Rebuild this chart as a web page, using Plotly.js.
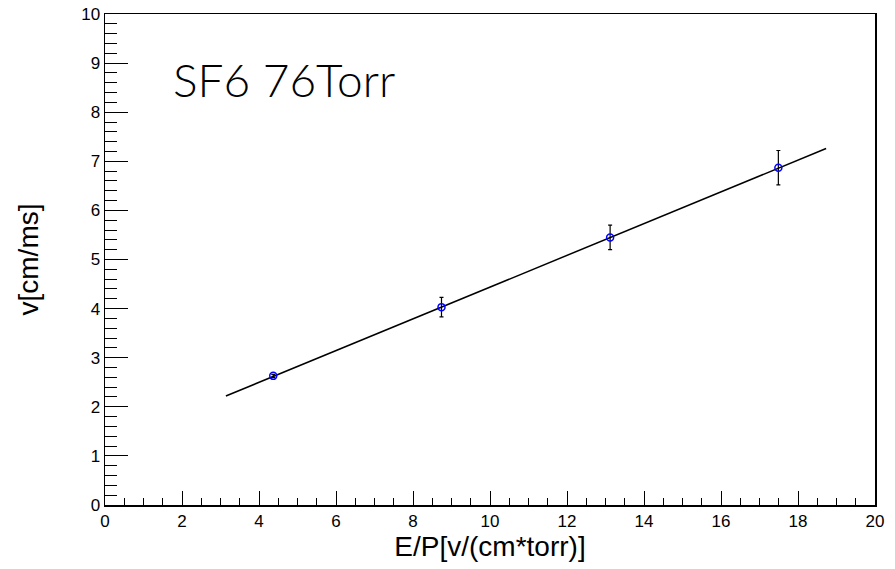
<!DOCTYPE html>
<html>
<head>
<meta charset="utf-8">
<script src="https://cdn.plot.ly/plotly-3.0.1.min.js"></script>
<style>html,body{margin:0;padding:0;background:#fff;}#chart{width:895px;height:569px;}</style>
</head>
<body>
<div id="chart"></div>
<script>
// Measured points
const epValues = [4.37, 8.74, 13.12, 17.49];
const velocity = [2.63, 4.03, 5.45, 6.87];
const velocityErr = [0.03, 0.20, 0.25, 0.35];
// Fit line
const fitX = [3.14, 18.73];
const fitY = [2.22, 7.26];
// Labels
const chartLabel = "SF6 76Torr";
const xTitle = "E/P[v/(cm*torr)]";
const yTitle = "v[cm/ms]";

const traces = [
  {
    x: fitX, y: fitY, type: 'scatter', mode: 'lines',
    line: {color: '#000', width: 1.5}, hoverinfo: 'skip', showlegend: false
  },
  {
    x: epValues, y: velocity, type: 'scatter', mode: 'markers',
    marker: {symbol: 'circle-open', color: '#0000ff', size: 7, line: {width: 1.5, color: '#0000ff'}},
    error_y: {type: 'data', array: velocityErr, visible: true, color: '#000', thickness: 1.2, width: 2},
    showlegend: false
  }
];

const axisFont = {family: 'Liberation Sans, Arial, sans-serif', size: 17, color: '#000'};
const titleFont = {family: 'Liberation Sans, Arial, sans-serif', size: 28, color: '#000'};
const layout = {
  width: 895, height: 569,
  margin: {l: 105, r: 20, t: 14, b: 64},
  paper_bgcolor: '#fff', plot_bgcolor: '#fff',
  showlegend: false,
  xaxis: {
    range: [0, 20], dtick: 2, tick0: 0, showgrid: false, zeroline: false,
    showline: true, linecolor: '#000', linewidth: 1.5, mirror: true,
    ticks: 'inside', ticklen: 14, tickwidth: 1, tickcolor: '#000',
    minor: {dtick: 0.5, ticklen: 7, tickwidth: 1, tickcolor: '#000', ticks: 'inside', showgrid: false},
    tickfont: axisFont,
    title: {text: xTitle, font: titleFont, standoff: 2}
  },
  yaxis: {
    range: [0, 10], dtick: 1, tick0: 0, showgrid: false, zeroline: false,
    showline: true, linecolor: '#000', linewidth: 1.5, mirror: true,
    ticks: 'inside', ticklen: 23, tickwidth: 1, tickcolor: '#000',
    minor: {dtick: 0.2, ticklen: 12, tickwidth: 1, tickcolor: '#000', ticks: 'inside', showgrid: false},
    tickfont: axisFont,
    title: {text: yTitle, font: titleFont, standoff: 34}
  },
  annotations: [{
    text: chartLabel, xref: 'paper', yref: 'paper', x: 0.086, y: 0.866,
    xanchor: 'left', yanchor: 'middle', showarrow: false,
    font: {family: 'Lato, sans-serif', size: 46, weight: 300, color: '#000'}
  }]
};

Plotly.newPlot('chart', traces, layout, {displayModeBar: false, staticPlot: true});
</script>
</body>
</html>
